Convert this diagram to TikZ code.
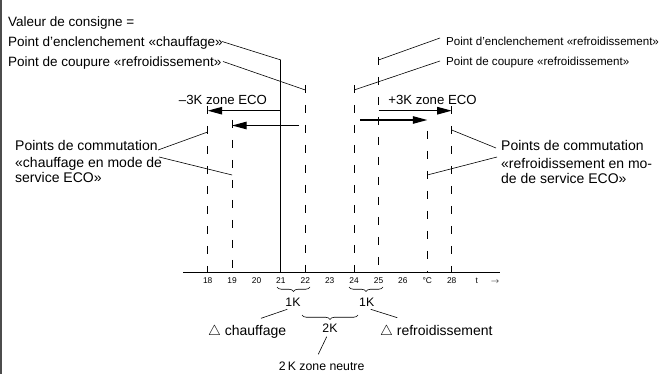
\documentclass[tikz,border=0pt]{standalone}
\usepackage{fontspec}
\setmainfont{Liberation Sans}
\usetikzlibrary{positioning, arrows.meta, decorations.pathreplacing}

\tikzset{
  bigtxt/.style={inner sep=0pt, font=\fontsize{13.5}{16}\selectfont},
  ecotxt/.style={inner sep=0pt, font=\fontsize{13.2}{16}\selectfont},
  rtxt/.style={inner sep=0pt, font=\fontsize{11.6}{14}\selectfont},
  comtxt/.style={inner sep=0pt, font=\fontsize{14}{16.5}\selectfont},
  ktxt/.style={inner sep=0pt, font=\fontsize{12.3}{14}\selectfont},
  ticklbl/.style={inner sep=0pt, anchor=base, font=\fontsize{8.4}{10}\selectfont},
  lead/.style={line width=0.6pt},
  dashln/.style={line width=1pt, dash pattern=on 8pt off 12pt},
  ecoarrow/.style={line width=1.1pt, -{Triangle[length=14.5pt,width=7.5pt]}},
  kbrace/.style={decorate, decoration={brace, mirror, amplitude=4.5pt}, line width=0.6pt}
}

\begin{document}
\begin{tikzpicture}[x=1pt,y=-1pt]
\useasboundingbox (0,0) rectangle (662,374);
\draw[line width=1.2pt, black!70] (1,0) -- (1,374);

% axis and scale
\coordinate (axL) at (183,272.7);
\coordinate (axR) at (500,272.7);
\draw[line width=1pt] (axL) -- (axR);
\foreach \d/\l in {18/18,19/19,20/20,21/21,22/22,23/23,24/24,25/25,26/26,27/{°C},28/28}
  \node[ticklbl] (n\d) at ({207.7+24.4*(\d-18)},283.7) {\l};
\node[ticklbl] (tt) at (476.7,283.7) {t};
\node[ticklbl] (tarr) at (495,283.7) {$\rightarrow$};

% switching lines
\coordinate (top18) at (207.7,106);
\coordinate (top19) at (232.1,120);
\coordinate (top21) at (280.9,60);
\coordinate (top22) at (305.3,85);
\coordinate (top24) at (354.1,85);
\coordinate (top25) at (378.5,57);
\coordinate (top27) at (427.3,131);
\coordinate (top28) at (451.7,106);
\foreach \d in {18,19,22,24,25,27,28}
  \draw[dashln] (top\d) -- (top\d |- axL);
\draw[line width=1pt] (top21) -- (top21 |- axL);

% ECO arrows
\draw[ecoarrow] (280.9,110.7) -- (207.7,110.7);
\draw[ecoarrow] (299,125.5) -- (232.1,125.5);
\draw[ecoarrow] (378.5,110.7) -- (451.7,110.7);
\draw[ecoarrow] (360,120) -- (427.3,120);
\node[ecotxt, anchor=base] (ecoL) at (223,104.7) {–3K zone ECO};
\node[ecotxt, anchor=base] (ecoR) at (432.5,104.7) {+3K zone ECO};

% left texts
\node[bigtxt, anchor=base west] (val) at (8,26.5) {Valeur de consigne =};
\node[bigtxt, anchor=base west] (onH) at (8,46.5) {Point d’enclenchement «chauffage»};
\node[bigtxt, anchor=base west] (offC) at (8,66.5) {Point de coupure «refroidissement»};
\draw[lead] (222,41.5) -- (top21);
\draw[lead] (223,61.5) -- (305.3,90);

\node[comtxt, anchor=base west] (comLa) at (15,151) {Points de commutation};
\node[comtxt, anchor=base west] (comLb) at (15,168) {«chauffage en mode de};
\node[comtxt, anchor=base west] (comLc) at (15,183) {service ECO»};
\draw[lead] (158,150) -- (207.7,132);
\draw[lead] (159,157) -- (232.1,175);

% right texts
\node[rtxt, anchor=base west] (onC) at (446,45.8) {Point d’enclenchement «refroidissement»};
\node[rtxt, anchor=base west] (offC2) at (446,65.8) {Point de coupure «refroidissement»};
\draw[lead] (440,38) -- (378.5,60);
\draw[lead] (440,61) -- (354.1,90);

\node[comtxt, anchor=base west] (comRa) at (501,150.7) {Points de commutation};
\node[comtxt, anchor=base west] (comRb) at (501,168.3) {«refroidissement en mo-};
\node[comtxt, anchor=base west] (comRc) at (501,183.3) {de de service ECO»};
\draw[lead] (451.7,130) -- (496,148);
\draw[lead] (427.3,175) -- (497,157);

% hysteresis and neutral zone
\draw[kbrace] (277,287) -- (310,287);
\draw[kbrace] (349,287) -- (383,287);
\draw[kbrace] (302,315) -- (358,315);
\node[ktxt, anchor=base] (kH) at (293,306.1) {1K};
\node[ktxt, anchor=base] (kC) at (366.7,306.1) {1K};
\node[ktxt, anchor=base] (kN) at (330,332.7) {2K};
\node[comtxt, anchor=base west] (dH) at (208,335.7) {$\triangle$ chauffage};
\node[comtxt, anchor=base west] (dC) at (380,335.7) {$\triangle$ refroidissement};
\node[ktxt, anchor=base] (zn) at (321.7,370.8) {2\,K zone neutre};
\draw[lead] (287.3,309.3) -- (261,318.3);
\draw[lead] (370.7,309.3) -- (397.3,317.7);
\draw[lead] (326.7,336.7) -- (318.3,354.3);
\end{tikzpicture}
\end{document}
